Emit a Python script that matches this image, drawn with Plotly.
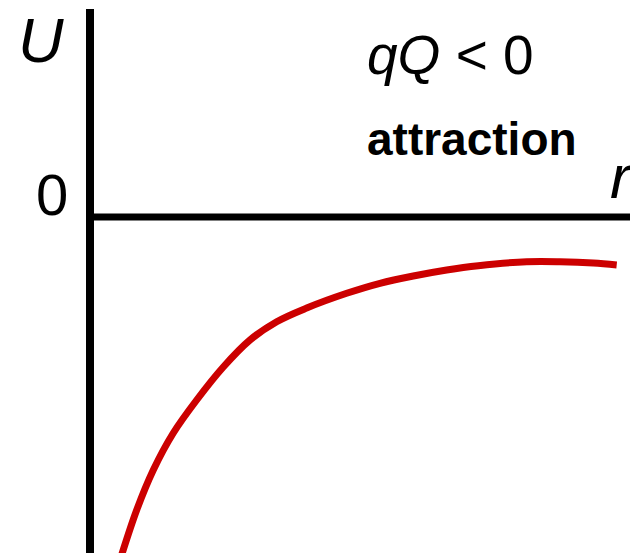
import plotly.graph_objects as go

# Potential energy curve U(r) for attraction (qQ < 0), arbitrary units
r_vals = [0.31, 0.467, 0.633, 0.833, 1.067, 1.333, 1.60, 1.867, 2.167,
          2.567, 2.90, 3.233, 3.567, 3.883, 4.367, 4.70, 5.033, 5.267]
U_vals = [-3.40, -2.93, -2.53, -2.16, -1.83, -1.50, -1.23, -1.047, -0.91,
          -0.763, -0.663, -0.59, -0.53, -0.487, -0.447, -0.447, -0.46, -0.48]

X_RANGE = [-0.90, 5.40]
Y_RANGE = [-3.36, 2.17]
FONT = "Liberation Sans, Arial, sans-serif"

fig = go.Figure()
fig.add_trace(go.Scatter(
    x=r_vals, y=U_vals, mode="lines",
    line=dict(color="#CC0000", width=7, shape="spline", smoothing=1.0),
    hoverinfo="skip", showlegend=False,
))

# axes drawn as thick lines
fig.add_shape(type="line", x0=0, x1=0, y0=Y_RANGE[0] - 0.1, y1=2.08,
              line=dict(color="black", width=8))
fig.add_shape(type="line", x0=0, x1=X_RANGE[1] + 0.1, y0=0, y1=0,
              line=dict(color="black", width=7))

ann = [
    dict(x=-0.49, y=1.775, text="<i>U</i>", size=63, anchor="center"),
    dict(x=-0.38, y=0.23, text="0", size=58, anchor="center"),
    dict(x=5.18, y=0.41, text="<i>r</i>", size=62, anchor="left"),
    dict(x=2.75, y=1.62, text="<i>qQ</i> < 0", size=55, anchor="left"),
    dict(x=2.75, y=0.78, text="<b>attraction</b>", size=46, anchor="left"),
]
for a in ann:
    fig.add_annotation(x=a["x"], y=a["y"], text=a["text"], showarrow=False,
                       xanchor=a["anchor"], yanchor="middle",
                       font=dict(family=FONT, size=a["size"], color="black"))

fig.update_layout(
    width=630, height=553,
    margin=dict(l=0, r=0, t=0, b=0),
    paper_bgcolor="white", plot_bgcolor="white",
    xaxis=dict(range=X_RANGE, visible=False, fixedrange=True),
    yaxis=dict(range=Y_RANGE, visible=False, fixedrange=True),
)

fig.write_html("out.html", config={"displayModeBar": False},
               post_script="document.body.style.margin='0';document.body.style.overflow='hidden';")
